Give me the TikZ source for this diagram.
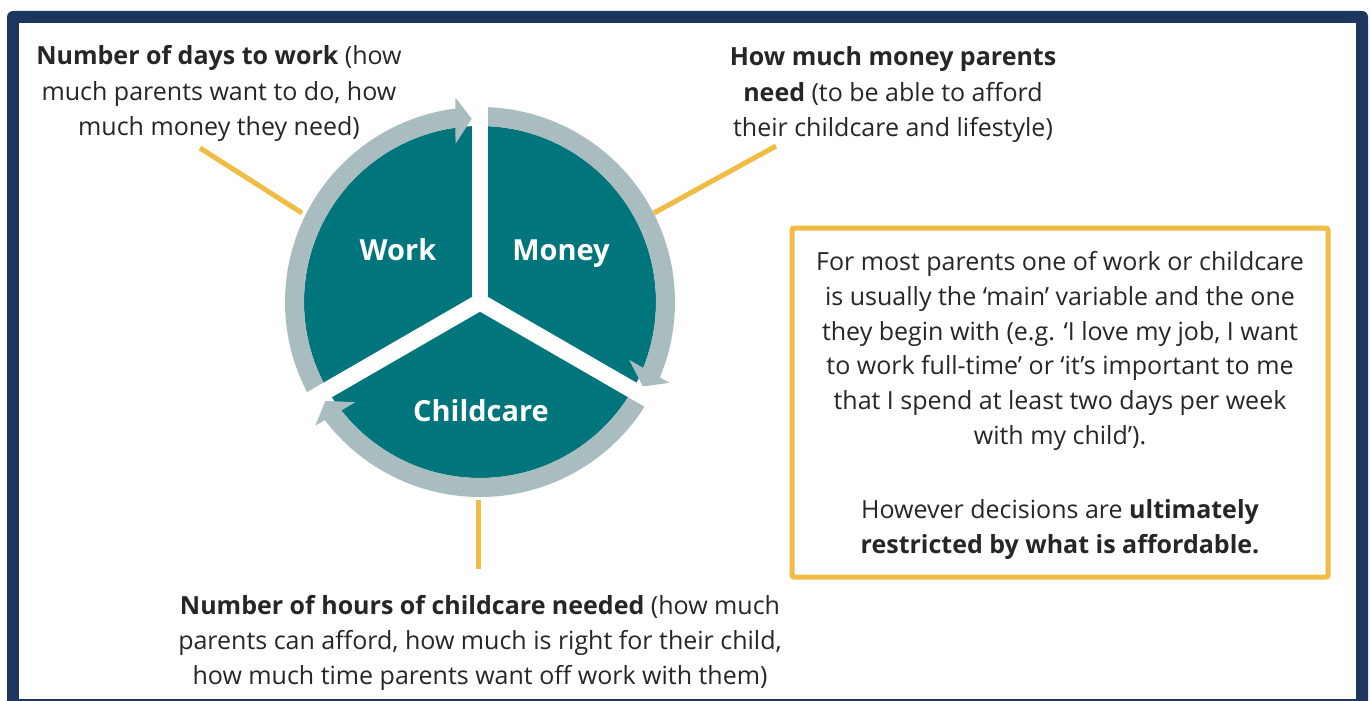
\documentclass[tikz,border=0pt]{standalone}
\usepackage{fontspec}
\setmainfont{Open Sans}
\usetikzlibrary{calc}
\definecolor{navy}{HTML}{1C365E}
\definecolor{tealfill}{HTML}{00757C}
\definecolor{ringgray}{HTML}{A9BCC0}
\definecolor{gold}{HTML}{F0BC44}
\definecolor{ink}{HTML}{262626}
\newcommand{\ringarrow}[2]{% #1 start angle, #2 tip angle
  \draw[ringarc] ($(c)+(#1:185.5)$) arc[start angle=#1, end angle=#2-4.5, radius=185.5];
  \fill[ringgray] ($(c)+(#2-6.2:160)$) -- ($(c)+(#2:183.5)$) -- ($(c)+(#2-4.3:206)$) -- cycle;
}
\begin{document}
\begin{tikzpicture}[x=1pt,y=-1pt,
  body/.style={anchor=base, inner sep=0pt, text=ink, font=\fontsize{25}{35}\selectfont},
  seclabel/.style={anchor=base, inner sep=0pt, text=white, font=\fontsize{29}{35}\selectfont\bfseries},
  conn/.style={draw=gold, line width=5pt},
  ringarc/.style={draw=ringgray, line width=19pt},
  gap/.style={draw=white, line width=16.7pt}]
\useasboundingbox (0,0) rectangle (1370,701);
\clip (0,0) rectangle (1370,701);
% frame
\fill[navy, rounded corners=6pt] (7,11) rectangle (1368,740);
\fill[white] (19,23) rectangle (1356,699);
% circle
\coordinate (c) at (480,302);
\fill[tealfill] (c) circle[radius=176];
\ringarrow{151}{267.4}
\ringarrow{271}{387.4}
\ringarrow{31}{147.4}
\draw[gap] (c) -- ($(c)+(270:215)$);
\draw[gap] (c) -- ($(c)+(30:215)$);
\draw[gap] (c) -- ($(c)+(150:215)$);
\node[seclabel] (work) at (398,260) {Work};
\node[seclabel] (money) at (561,260) {Money};
\node[seclabel] (childcare) at (481,421.5) {Childcare};
% connectors
\coordinate (wa) at (200,148);
\coordinate (wb) at (302,213);
\coordinate (ma) at (776,146);
\coordinate (mb) at (654,213);
\coordinate (ca) at (478,500);
\coordinate (cb) at (478,569);
\draw[conn] (wa) -- (wb);
\draw[conn] (ma) -- (mb);
\draw[conn] (ca) -- (cb);
% top-left text
\node[body] (tl1) at (219,65) {\textbf{Number of days to work} (how};
\node[body] (tl2) at (219,100) {much parents want to do, how};
\node[body] (tl3) at (219,135) {much money they need)};
% top-right text
\node[body] (tr1) at (893,66) {\textbf{How much money parents}};
\node[body] (tr2) at (893,101) {\textbf{need} (to be able to afford};
\node[body] (tr3) at (893,136) {their childcare and lifestyle)};
% bottom text
\node[body] (b1) at (480,614) {\textbf{Number of hours of childcare needed} (how much};
\node[body] (b2) at (480,649) {parents can afford, how much is right for their child,};
\node[body] (b3) at (480,684) {how much time parents want off work with them)};
% box
\node[draw=gold, line width=5pt, rounded corners=2pt, minimum width=536pt, minimum height=349pt, inner sep=0pt] (box) at (1060,402.5) {};
\node[body] (p1) at (1060,270) {For most parents one of work or childcare};
\node[body] (p2) at (1060,305) {is usually the ‘main’ variable and the one};
\node[body] (p3) at (1060,340) {they begin with (e.g. ‘I love my job, I want};
\node[body] (p4) at (1060,374) {to work full-time’ or ‘it’s important to me};
\node[body] (p5) at (1060,409) {that I spend at least two days per week};
\node[body] (p6) at (1060,444) {with my child’).};
\node[body] (p7) at (1060,518) {However decisions are \textbf{ultimately}};
\node[body] (p8) at (1060,553) {\textbf{restricted by what is affordable.}};
\end{tikzpicture}
\end{document}
